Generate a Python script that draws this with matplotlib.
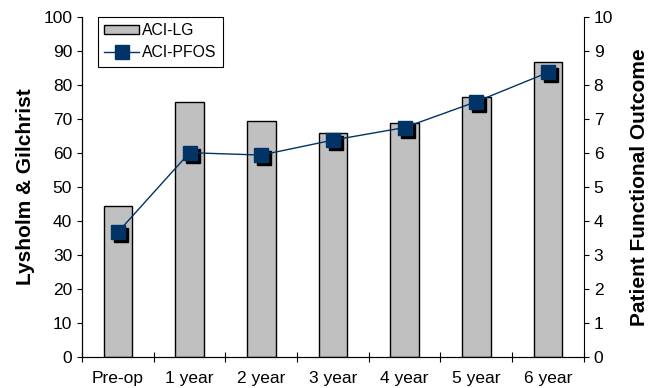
import numpy as np
import matplotlib.pyplot as plt
import matplotlib.transforms as mtransforms

plt.rcParams['font.family'] = ['Liberation Sans', 'DejaVu Sans']

categories = ["Pre-op", "1 year", "2 year", "3 year", "4 year", "5 year", "6 year"]
lg_scores = [44.5, 75.0, 69.3, 65.9, 68.8, 76.4, 86.8]
pfos_scores = [3.67, 6.01, 5.94, 6.38, 6.75, 7.51, 8.37]

navy = '#003366'
x = np.arange(len(categories))

fig = plt.figure(figsize=(6.56, 3.88), dpi=100)
ax = fig.add_axes([0.125, 0.080, 0.765, 0.876])

ax.bar(x, lg_scores, width=0.40, color='#c0c0c0', edgecolor='black',
       linewidth=1.0, label='ACI-LG', zorder=2)
ax.set_xlim(-0.5, len(categories) - 0.5)
ax.set_ylim(0, 100)
ax.set_yticks(range(0, 101, 10))
ax.set_ylabel('Lysholm & Gilchrist', fontsize=15, fontweight='bold', labelpad=6)

ax.set_xticks(np.arange(-0.5, len(categories), 1.0))
ax.set_xticklabels([])
ax.set_xticks(x, minor=True)
ax.set_xticklabels(categories, minor=True)
ax.tick_params(axis='x', which='major', direction='inout', length=7)
ax.tick_params(axis='x', which='minor', length=0, pad=10, labelsize=12.5)
ax.tick_params(axis='y', direction='out', length=3.6, labelsize=12.5)
ax.spines['top'].set_visible(False)
ax.spines['right'].set_visible(False)

ax2 = ax.twinx()
ax2.set_ylim(0, 10)
ax2.set_yticks(range(0, 11))
ax2.tick_params(axis='y', direction='out', length=3.6, labelsize=12.5)
ax2.spines['top'].set_visible(False)
ax2.set_ylabel('Patient Functional Outcome', fontsize=15, fontweight='bold', labelpad=12)

shadow = ax2.transData + mtransforms.ScaledTranslation(3 / 100, -3 / 100, fig.dpi_scale_trans)
ax2.plot(x, pfos_scores, linestyle='none', marker='s', markersize=9.5,
         color='black', transform=shadow, zorder=3)
line, = ax2.plot(x, pfos_scores, color=navy, linewidth=1.0, marker='s',
                 markersize=9.5, markerfacecolor=navy, markeredgecolor=navy,
                 label='ACI-PFOS', zorder=4)

h1, l1 = ax.get_legend_handles_labels()
h2, l2 = ax2.get_legend_handles_labels()
leg = ax2.legend(h1 + h2, l1 + l2, loc='upper left', bbox_to_anchor=(0.032, 1.0),
                 frameon=True, fancybox=False, edgecolor='black', framealpha=1,
                 fontsize=11.3, handlelength=2.2, handleheight=0.5, borderpad=0.4,
                 labelspacing=0.45, handletextpad=0.2, borderaxespad=0)
leg.get_frame().set_linewidth(0.8)

fig.savefig('out.png', dpi=100)
